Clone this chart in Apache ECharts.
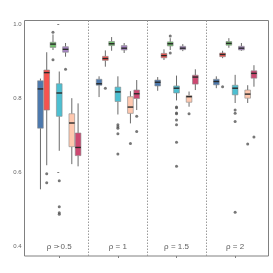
<!DOCTYPE html>
<html><head><meta charset="utf-8">
<script src="https://cdn.jsdelivr.net/npm/echarts@6/dist/echarts.min.js"></script>
<style>html,body{margin:0;padding:0;background:#fff}#c{width:273px;height:273px}</style>
</head><body><div id="c"></div>
<script>
const facetLabels = ['ρ = 0.5', 'ρ = 1', 'ρ = 1.5', 'ρ = 2'];
const yTicks = [0.4, 0.6, 0.8, 1.0];
// each entry: [low whisker, q1, median, q3, high whisker] per facet
const blueBox = [[0.554,0.719,0.825,0.847,0.853],[0.803,0.835,0.839,0.851,0.859],[0.820,0.833,0.843,0.849,0.857],[0.827,0.836,0.845,0.851,0.859]];
const blueOut = [[],[],[],[]];
const redBox = [[0.619,0.768,0.869,0.876,0.924],[0.885,0.902,0.907,0.913,0.929],[0.903,0.909,0.915,0.921,0.932],[0.908,0.912,0.918,0.922,0.928]];
const redOut = [[0.596,0.572],[0.827],[],[0.831]];
const greenBox = [[0.930,0.937,0.946,0.951,0.972],[0.928,0.942,0.947,0.953,0.965],[0.930,0.941,0.947,0.952,0.962],[0.936,0.943,0.948,0.953,0.962]];
const greenOut = [[0.978,0.904],[],[0.968,0.922],[]];
const cyanBox = [[0.658,0.751,0.814,0.839,0.872],[0.756,0.791,0.817,0.830,0.859],[0.794,0.814,0.827,0.833,0.861],[0.787,0.809,0.827,0.835,0.863]];
const cyanOut = [[0.577,0.507,0.491,0.487],[0.728,0.723,0.719,0.704,0.649],[0.776,0.774,0.760,0.758,0.741,0.728,0.681,0.616],[0.768,0.759,0.737,0.492]];
const purpleBox = [[0.912,0.924,0.932,0.939,0.949],[0.922,0.930,0.935,0.942,0.949],[0.927,0.931,0.935,0.940,0.946],[0.928,0.930,0.935,0.940,0.949]];
const purpleOut = [[0.878],[],[],[]];
const peachBox = [[0.622,0.669,0.733,0.758,0.800],[0.732,0.759,0.776,0.804,0.819],[0.777,0.789,0.804,0.807,0.818],[0.787,0.800,0.811,0.822,0.835]];
const peachOut = [[],[0.678],[0.758],[0.676]];
const crimsonBox = [[0.616,0.645,0.667,0.706,0.786],[0.768,0.799,0.812,0.822,0.849],[0.822,0.838,0.857,0.862,0.878],[0.831,0.854,0.867,0.874,0.889]];
const crimsonOut = [[],[0.751,0.710],[],[0.695]];

const groups = [
  {box: blueBox, out: blueOut, color: '#4C79AE'},
  {box: redBox, out: redOut, color: '#F6534F'},
  {box: greenBox, out: greenOut, color: '#6FBF6B'},
  {box: cyanBox, out: cyanOut, color: '#4DBFD1'},
  {box: purpleBox, out: purpleOut, color: '#A784C4'},
  {box: peachBox, out: peachOut, color: '#FFC8AF'},
  {box: crimsonBox, out: crimsonOut, color: '#CD4871'}
];
const DODGE = 0.107, BOXW = 0.097;

const series = [];
groups.forEach((g, gi) => {
  const off = (gi - 3) * DODGE;
  series.push({
    type: 'custom',
    data: g.box.map((b, fi) => [fi + off].concat(b)),
    encode: {x: 0, y: [1,2,3,4,5]},
    z: 3,
    renderItem: (params, api) => {
      const x = api.value(0);
      const p = [1,2,3,4,5].map(i => api.coord([x, api.value(i)]));
      const w = api.size([BOXW, 0])[0];
      const cx = p[0][0];
      const ws = {stroke: '#6a6a6a', lineWidth: 1};
      return {type: 'group', children: [
        {type: 'line', shape: {x1: cx, y1: p[4][1], x2: cx, y2: p[3][1]}, style: ws},
        {type: 'line', shape: {x1: cx, y1: p[1][1], x2: cx, y2: p[0][1]}, style: ws},
        {type: 'rect', shape: {x: cx - w/2, y: p[3][1], width: w, height: p[1][1] - p[3][1]}, style: {fill: g.color, stroke: '#8a8a8a', lineWidth: 0.6}},
        {type: 'line', shape: {x1: cx - w/2, y1: p[2][1], x2: cx + w/2, y2: p[2][1]}, style: {stroke: '#2a2a2a', lineWidth: 1.4}}
      ]};
    }
  });
  const pts = [];
  g.out.forEach((arr, fi) => arr.forEach(v => pts.push([fi + off, v])));
  series.push({type: 'scatter', data: pts, symbolSize: 3, itemStyle: {color: '#555'}, z: 4, silent: true});
});
series.push({
  type: 'scatter', data: facetLabels.map((t, i) => [i, 0.399, t]), symbolSize: 0, silent: true,
  label: {show: true, position: 'inside', formatter: p => p.data[2], fontSize: 8, color: '#333', fontFamily: 'Liberation Sans'},
  markLine: {symbol: 'none', silent: true, label: {show: false}, lineStyle: {type: [1.5, 1.5], color: '#9a9a9a', width: 1},
    data: [{xAxis: 0.5}, {xAxis: 1.5}, {xAxis: 2.5}]}
});

const chart = echarts.init(document.getElementById('c'), null, {renderer: 'canvas'});
chart.setOption({
  animation: false,
  backgroundColor: '#fff',
  grid: {left: 24.5, right: 4.5, top: 20.5, bottom: 17, show: true, borderColor: '#808080', borderWidth: 1},
  xAxis: {type: 'value', min: -0.593, max: 3.569,
    axisLine: {show: false}, splitLine: {show: false}, axisLabel: {show: false},
    axisTick: {show: true, customValues: [0,1,2,3], length: 2, lineStyle: {color: '#808080'}}},
  yAxis: {type: 'value', min: 0.374, max: 1.0097,
    axisLine: {show: false}, splitLine: {show: false},
    axisTick: {show: true, customValues: yTicks, length: 2, lineStyle: {color: '#808080'}},
    axisLabel: {customValues: yTicks, formatter: v => v.toFixed(1), fontSize: 6, color: '#666', margin: 3, fontFamily: 'Liberation Sans'}},
  series: series
});
</script></body></html>
